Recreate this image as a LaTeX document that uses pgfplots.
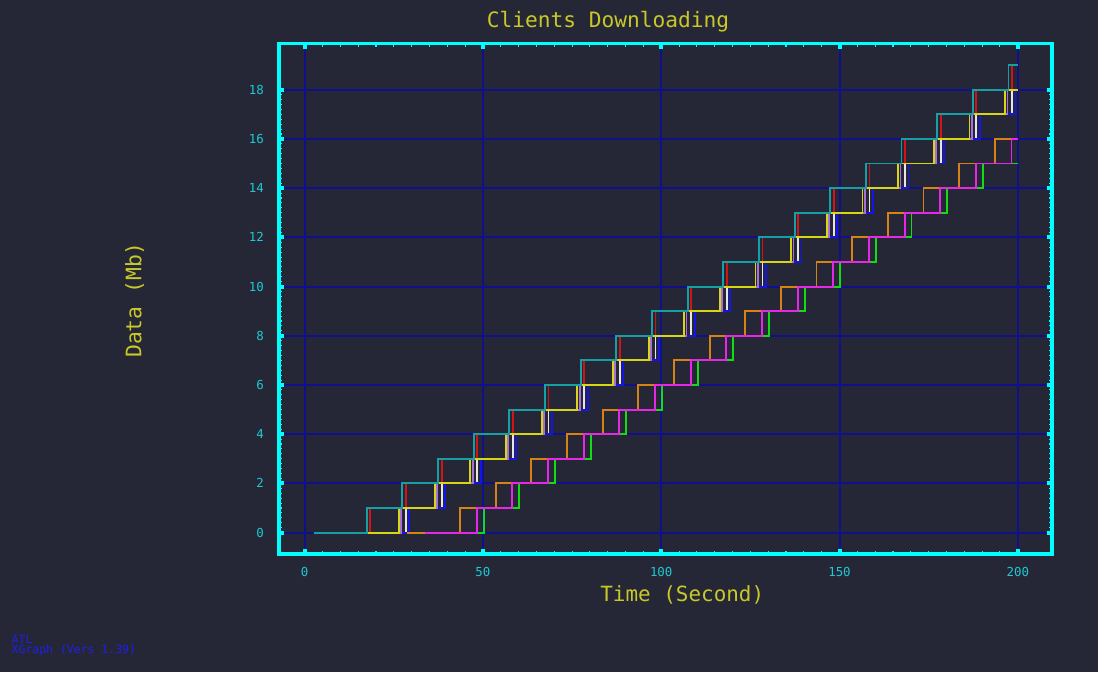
\documentclass[border=0pt]{standalone}
\usepackage{pgfplots}
\pgfplotsset{compat=1.18}
\usepackage{fontspec}
\setmonofont{DejaVu Sans Mono}
\definecolor{bg}{RGB}{38,39,54}
\definecolor{gridblue}{RGB}{16,16,140}
\definecolor{frame}{RGB}{0,255,255}
\definecolor{ticklab}{RGB}{32,200,210}
\definecolor{titley}{RGB}{200,200,40}
\definecolor{infoblue}{RGB}{30,30,240}
\definecolor{cCyan}{RGB}{20,160,165}
\definecolor{cRed}{RGB}{210,20,20}
\definecolor{cYellow}{RGB}{215,215,20}
\definecolor{cLav}{RGB}{170,110,220}
\definecolor{cWhite}{RGB}{230,230,230}
\definecolor{cBlue}{RGB}{20,20,230}
\definecolor{cOrange}{RGB}{215,130,20}
\definecolor{cMag}{RGB}{230,40,230}
\definecolor{cGreen}{RGB}{20,220,20}
\begin{document}
\begin{tikzpicture}
\fill[bg] (0pt,0pt) rectangle (823.5pt,504pt);
\useasboundingbox (0pt,0pt) rectangle (823.5pt,504pt);
\begin{axis}[
  at={(209.25pt,88.5pt)}, anchor=south west,
  scale only axis, width=579.75pt, height=382.7pt,
  xmin=-7.2, xmax=209.6, ymin=-0.87, ymax=19.87,
  xtick={0,50,100,150,200}, ytick={0,2,4,6,8,10,12,14,16,18},
  minor x tick num=9, minor y tick num=9,
  grid=major,
  major grid style={line width=1.5pt, color=gridblue},
  axis line style={line width=2.6pt, color=frame},
  major tick length=4pt, minor tick length=2.5pt,
  major tick style={line width=3pt, color=frame},
  minor tick style={line width=0.8pt, color=frame},
  /pgf/number format/assume math mode=true,
  ticklabel style={font=\ttfamily\fontsize{9.3}{11}\selectfont, text=ticklab, inner sep=0pt},
  xticklabel style={anchor=center, yshift=-13.4pt},
  yticklabel style={anchor=east, xshift=-11.2pt},
  every axis plot/.append style={line width=1.4pt, const plot mark left, mark=none},
]
% red
\addplot[cRed] coordinates {(2.7,0) (18.4,1) (28.4,2) (38.4,3) (48.4,4) (58.4,5) (68.4,6) (78.4,7) (88.4,8) (98.4,9) (108.4,10) (118.4,11) (128.4,12) (138.4,13) (148.4,14) (158.4,15) (168.4,16) (178.4,17) (188.4,18) (198.4,19) (200,19)};
% white
\addplot[cWhite] coordinates {(2.7,0) (28.4,1) (38.4,2) (48.4,3) (58.4,4) (68.4,5) (78.4,6) (88.4,7) (98.4,8) (108.4,9) (118.4,10) (128.4,11) (138.4,12) (148.4,13) (158.4,14) (168.4,15) (178.4,16) (188.4,17) (198.4,18) (200,18)};
% blue
\addplot[cBlue] coordinates {(2.7,0) (29.35,1) (39.35,2) (49.35,3) (59.35,4) (69.35,5) (79.35,6) (89.35,7) (99.35,8) (109.35,9) (119.35,10) (129.35,11) (139.35,12) (149.35,13) (159.35,14) (169.35,15) (179.35,16) (189.35,17) (199.35,18) (200,18)};
% lavender
\addplot[cLav] coordinates {(2.7,0) (27.1,1) (37.1,2) (47.1,3) (57.1,4) (67.1,5) (77.1,6) (87.1,7) (97.1,8) (107.1,9) (117.1,10) (127.1,11) (137.1,12) (147.1,13) (157.1,14) (167.1,15) (177.1,16) (187.1,17) (197.1,18) (200,18)};
% yellow
\addplot[cYellow] coordinates {(2.7,0) (26.45,1) (36.45,2) (46.45,3) (56.45,4) (66.45,5) (76.45,6) (86.45,7) (96.45,8) (106.45,9) (116.45,10) (126.45,11) (136.45,12) (146.45,13) (156.45,14) (166.45,15) (176.45,16) (186.45,17) (196.45,18) (200,18)};
% cyan
\addplot[cCyan] coordinates {(2.7,0) (17.4,1) (27.4,2) (37.4,3) (47.4,4) (57.4,5) (67.4,6) (77.4,7) (87.4,8) (97.4,9) (107.4,10) (117.4,11) (127.4,12) (137.4,13) (147.4,14) (157.4,15) (167.4,16) (177.4,17) (187.4,18) (197.4,19) (200,19)};
% orange
\addplot[cOrange] coordinates {(28.6,0) (43.56,1) (53.56,2) (63.56,3) (73.56,4) (83.56,5) (93.56,6) (103.56,7) (113.56,8) (123.56,9) (133.56,10) (143.56,11) (153.56,12) (163.56,13) (173.56,14) (183.56,15) (193.56,16) (200,16)};
% green
\addplot[cGreen] coordinates {(33.75,0) (50.2,1) (60.2,2) (70.2,3) (80.2,4) (90.2,5) (100.2,6) (110.2,7) (120.2,8) (130.2,9) (140.2,10) (150.2,11) (160.2,12) (170.2,13) (180.2,14) (190.2,15) (200,15)};
% magenta
\addplot[cMag] coordinates {(33.75,0) (48.25,1) (58.25,2) (68.25,3) (78.25,4) (88.25,5) (98.25,6) (108.25,7) (118.25,8) (128.25,9) (138.25,10) (148.25,11) (158.25,12) (168.25,13) (178.25,14) (188.25,15) (198.25,16) (200,16)};
\end{axis}
\node[anchor=base, inner sep=0pt, text=titley, font=\ttfamily\fontsize{15.9}{18}\selectfont] at (456pt,483.2pt) {Clients Downloading};
\node[anchor=base, inner sep=0pt, text=titley, font=\ttfamily\fontsize{15.7}{18}\selectfont] at (511.7pt,53.25pt) {Time (Second)};
\node[anchor=base, rotate=90, inner sep=0pt, text=titley, font=\ttfamily\fontsize{16}{18}\selectfont] at (106.1pt,279pt) {Data (Mb)};
\node[anchor=base west, inner sep=0pt, text=infoblue, font=\ttfamily\fontsize{8.6}{10}\selectfont] at (8.6pt,21.5pt) {ATL};
\node[anchor=base west, inner sep=0pt, text=infoblue, font=\ttfamily\fontsize{8.6}{10}\selectfont] at (8.6pt,14pt) {XGraph (Vers 1.39)};
\end{tikzpicture}
\end{document}
